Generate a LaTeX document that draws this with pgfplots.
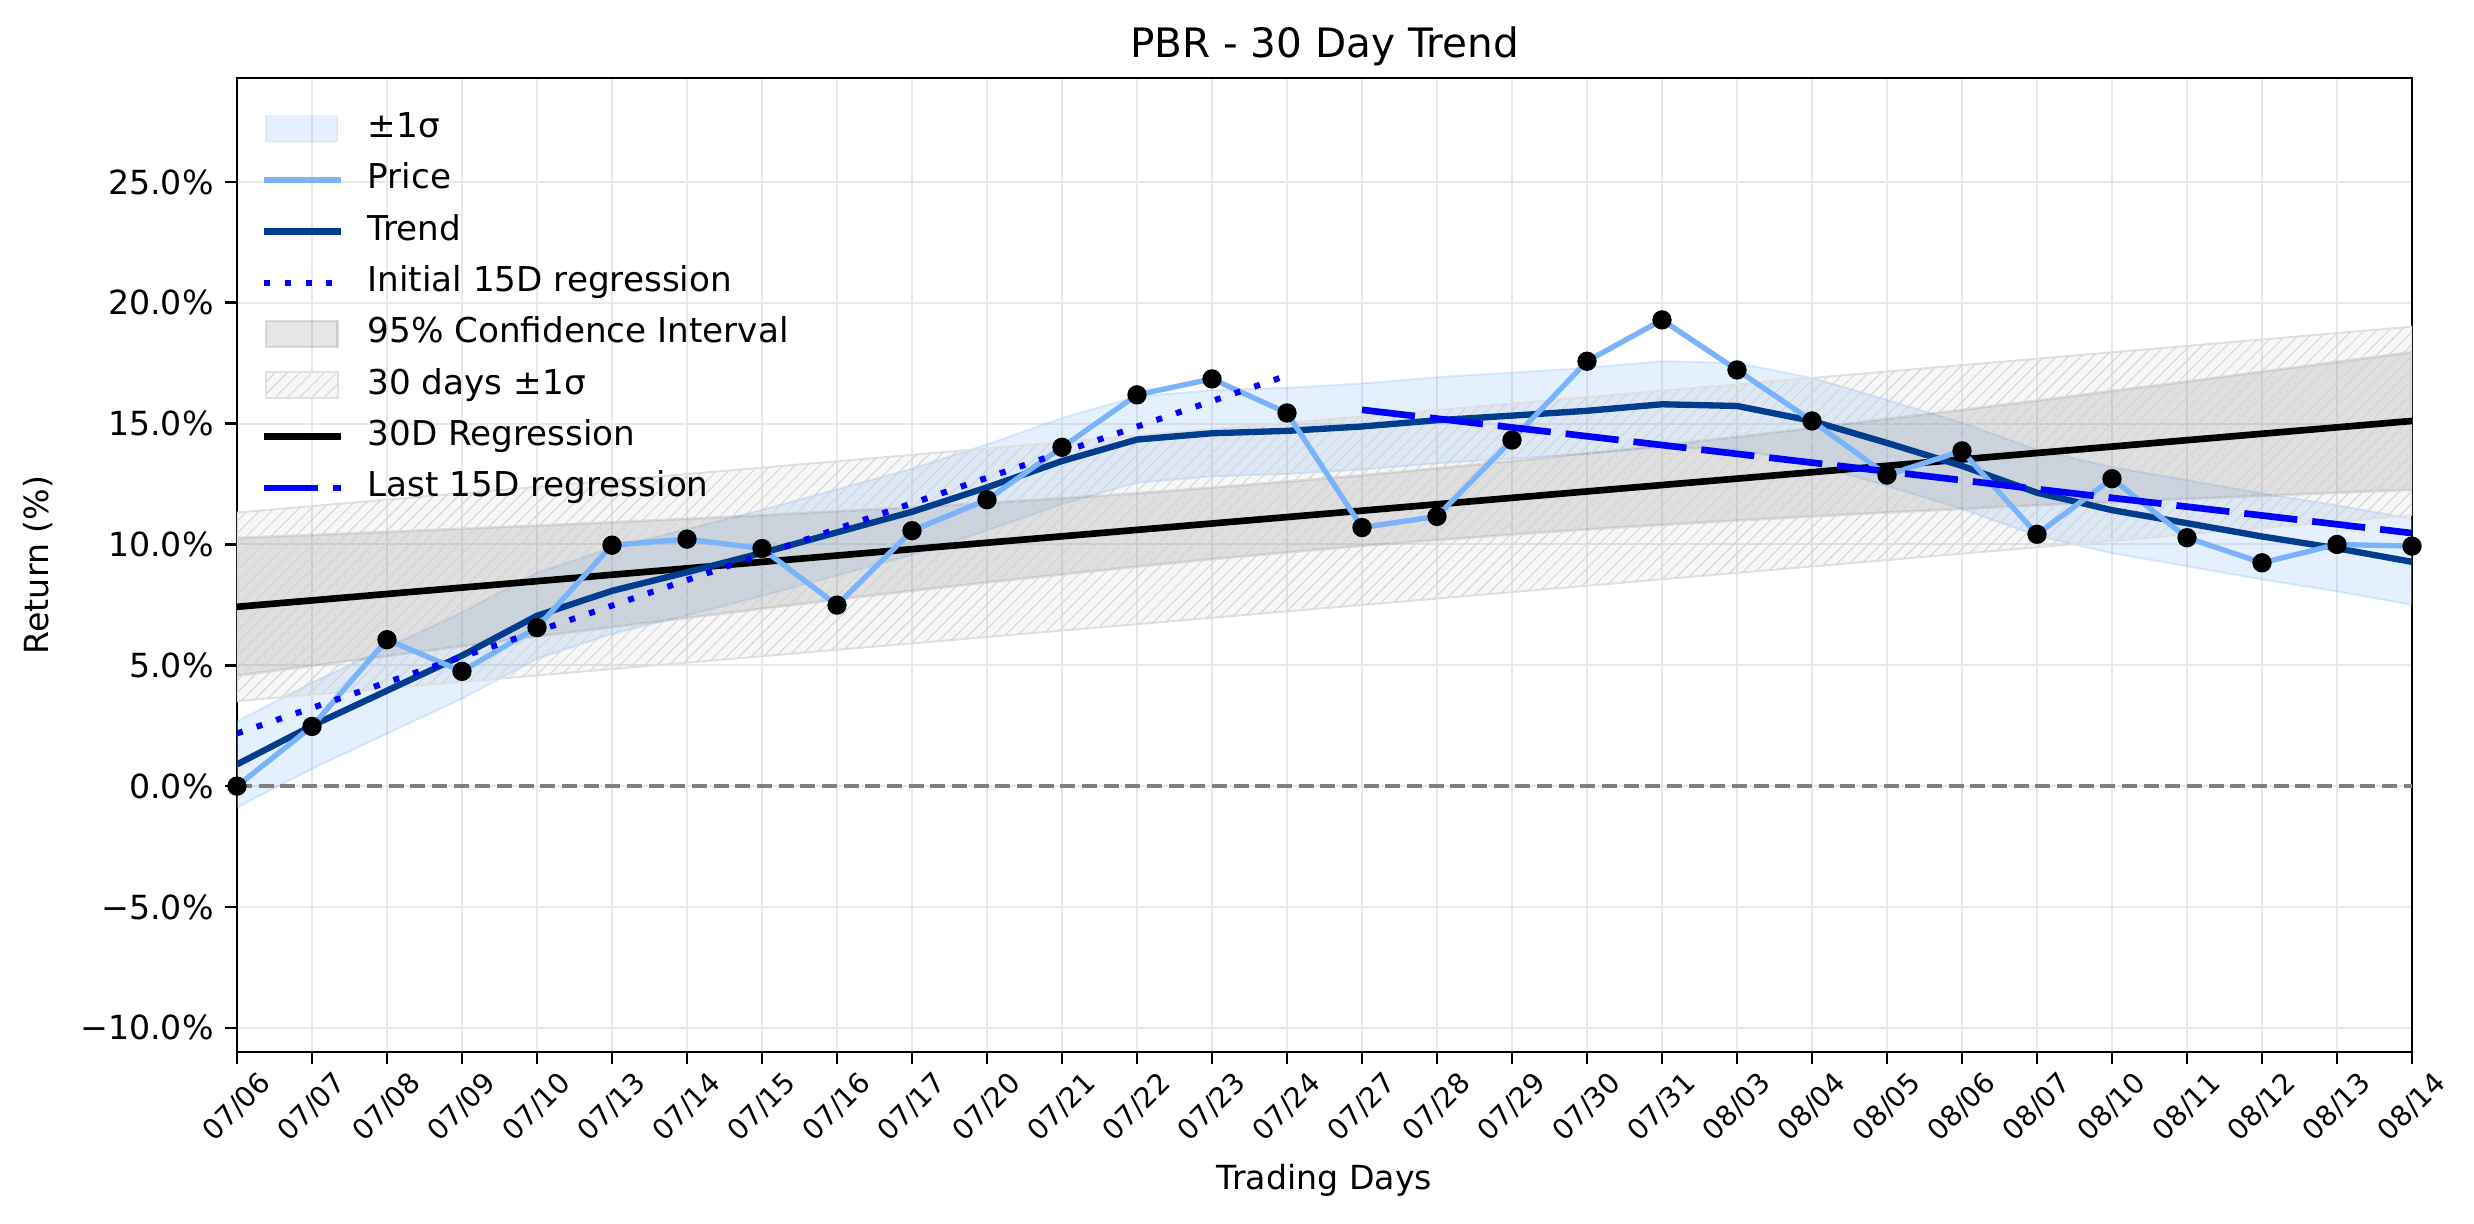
\documentclass[border=0pt]{standalone}
\usepackage{fontspec}
\setmainfont{DejaVu Sans}
\usepackage{pgfplots}
\usepackage{pgfplotstable}
\pgfplotsset{compat=1.18}
\usetikzlibrary{patterns.meta}

\definecolor{pricecol}{RGB}{122,179,250}
\definecolor{trendcol}{RGB}{0,61,143}
\definecolor{zerocol}{RGB}{128,128,128}

% daily return and smoothed trend
\pgfplotstableread{
x price trend
0 0.00 0.90
1 2.47 2.50
2 6.06 3.95
3 4.75 5.40
4 6.56 7.05
5 9.97 8.08
6 10.22 8.85
7 9.83 9.65
8 7.49 10.50
9 10.57 11.35
10 11.85 12.36
11 14.02 13.45
12 16.19 14.34
13 16.85 14.60
14 15.44 14.70
15 10.70 14.88
16 11.16 15.14
17 14.32 15.33
18 17.58 15.53
19 19.29 15.80
20 17.22 15.73
21 15.11 15.11
22 12.87 14.20
23 13.87 13.25
24 10.42 12.14
25 12.72 11.42
26 10.28 10.88
27 9.24 10.33
28 10.00 9.84
29 9.93 9.28
}\daily

\tikzset{hatchpat/.style={pattern={Lines[angle=45,distance=2.6bp,line width=0.3bp]}, pattern color=black!17}}

\pgfplotsset{
  legline/.style={legend image code/.code={\draw[##1] (0bp,0bp) -- (23bp,0bp); \path (0bp,-4bp) (29bp,4bp);}},
  legarea/.style={legend image code/.code={\draw[##1] (0.5bp,-3.9bp) rectangle (22bp,3.9bp); \path (0bp,-4bp) (29bp,4bp);}},
  leghatch/.style={legend image code/.code={%
    \fill[black!3] (0.5bp,-3.9bp) rectangle (22bp,3.9bp);
    \path[hatchpat] (0.5bp,-3.9bp) rectangle (22bp,3.9bp);
    \draw[black!12, line width=0.6bp] (0.5bp,-3.9bp) rectangle (22bp,3.9bp);
    \path (0bp,-4bp) (29bp,4bp);}},
}

\begin{document}
\begin{tikzpicture}
\path[use as bounding box] (-71.1bp,-51.6bp) rectangle (671.1bp,315.6bp);
\begin{axis}[
  at={(0,0)}, anchor=south west,
  scale only axis, width=652.5bp, height=292.2bp,
  xmin=0, xmax=29, ymin=-11, ymax=29.3,
  xtick={0,...,29},
  xticklabels={07/06,07/07,07/08,07/09,07/10,07/13,07/14,07/15,07/16,07/17,07/20,07/21,07/22,07/23,07/24,07/27,07/28,07/29,07/30,07/31,08/03,08/04,08/05,08/06,08/07,08/10,08/11,08/12,08/13,08/14},
  ytick={-10,-5,0,5,10,15,20,25},
  yticklabels={−10.0\%,−5.0\%,0.0\%,5.0\%,10.0\%,15.0\%,20.0\%,25.0\%},
  xtick pos=lower, ytick pos=left,
  tick align=outside,
  major tick length=3.5bp,
  tick style={black, line width=0.8bp},
  axis line style={line width=0.8bp},
  grid=major,
  major grid style={black!9, line width=0.6bp},
  tick label style={font=\fontsize{10}{12}\selectfont},
  xticklabel style={font=\fontsize{8.5}{10}\selectfont, rotate=45, anchor=center, inner sep=0pt},
  xticklabel shift=13bp,
  title={PBR - 30 Day Trend},
  title style={font=\fontsize{12.2}{14}\selectfont, at={(0.5,1)}, anchor=base, yshift=0.3bp},
  xlabel={Trading Days},
  xlabel style={font=\fontsize{10}{12}\selectfont, at={(axis description cs:0.5,0)}, anchor=center, yshift=-38.4bp},
  ylabel={Return (\%)},
  ylabel style={font=\fontsize{10}{12}\selectfont, at={(axis description cs:-0.0915,0.5)}, anchor=center},
  legend style={at={(0,1)}, anchor=north west, xshift=4bp, yshift=-7.2bp,
    draw=none, fill=none, font=\fontsize{10.3}{12}\selectfont,
    nodes={text height=7.5bp, text depth=2.2bp, inner sep=1bp},
    row sep=3.7bp},
  legend cell align=left,
]
% +-1 sigma band round the trend
\addplot[forget plot, fill=pricecol, fill opacity=0.2, draw=pricecol, draw opacity=0.25, line width=0.6bp]
  coordinates {(0,2.68) (1,4.28) (2,5.73) (3,7.18) (4,8.83) (5,9.86) (6,10.63) (7,11.43)
    (8,12.28) (9,13.13) (10,14.14) (11,15.23) (12,16.12) (13,16.38) (14,16.48) (15,16.66)
    (16,16.92) (17,17.11) (18,17.31) (19,17.58) (20,17.51) (21,16.89) (22,15.98) (23,15.03)
    (24,13.92) (25,13.20) (26,12.66) (27,12.11) (28,11.62) (29,11.06)
    (29,7.50) (28,8.06) (27,8.55) (26,9.10) (25,9.64) (24,10.36) (23,11.47) (22,12.42)
    (21,13.33) (20,13.95) (19,14.02) (18,13.75) (17,13.55) (16,13.36) (15,13.10) (14,12.92)
    (13,12.82) (12,12.56) (11,11.67) (10,10.58) (9,9.57) (8,8.72) (7,7.87) (6,7.07)
    (5,6.30) (4,5.27) (3,3.62) (2,2.17) (1,0.72) (0,-0.88) (0,2.68)};

% 95% confidence interval of the 30D regression
\addplot[forget plot, fill=zerocol, fill opacity=0.2, draw=zerocol, draw opacity=0.2, line width=0.8bp]
  coordinates {(0,10.27) (1,10.39) (2,10.52) (3,10.65) (4,10.78) (5,10.92) (6,11.06) (7,11.21)
    (8,11.37) (9,11.54) (10,11.72) (11,11.91) (12,12.12) (13,12.35) (14,12.60) (15,12.86)
    (16,13.15) (17,13.45) (18,13.77) (19,14.10) (20,14.45) (21,14.82) (22,15.19) (23,15.57)
    (24,15.95) (25,16.35) (26,16.74) (27,17.15) (28,17.55) (29,17.96)
    (29,12.26) (28,12.14) (27,12.01) (26,11.89) (25,11.75) (24,11.62) (23,11.47) (22,11.32)
    (21,11.16) (20,10.99) (19,10.81) (18,10.62) (17,10.41) (16,10.18) (15,9.94) (14,9.67)
    (13,9.39) (12,9.08) (11,8.76) (10,8.43) (9,8.08) (8,7.72) (7,7.34) (6,6.96)
    (5,6.58) (4,6.19) (3,5.79) (2,5.38) (1,4.98) (0,4.57) (0,10.27)};

% 30 days +-1 sigma, hatched
\addplot[forget plot, draw=black!12, line width=0.6bp, fill=black, fill opacity=0.03]
  coordinates {(0,11.32) (29,19.01) (29,11.21) (0,3.52) (0,11.32)};
\addplot[forget plot, draw=none, hatchpat]
  coordinates {(0,11.32) (29,19.01) (29,11.21) (0,3.52) (0,11.32)};

\addplot[forget plot, zerocol, line width=1.1bp, dash pattern=on 4.5bp off 2bp]
  coordinates {(0,0) (29,0)};

\addplot[forget plot, black, line width=2bp] coordinates {(0,7.42) (29,15.11)};
\addplot[forget plot, trendcol, line width=1.9bp] table[x=x, y=trend]{\daily};
\addplot[forget plot, pricecol, line width=1.6bp] table[x=x, y=price]{\daily};
\addplot[forget plot, blue, line width=1.8bp, dash pattern=on 1.8bp off 4.4bp] coordinates {(0,2.18) (14,16.99)};
\addplot[forget plot, blue, line width=2bp, dash pattern=on 16bp off 4.5bp] coordinates {(15,15.57) (29,10.47)};
\addplot[forget plot, only marks, mark=*, mark size=2.7bp, black] table[x=x, y=price]{\daily};

\addlegendimage{legarea, fill=pricecol, fill opacity=0.2, draw=pricecol, draw opacity=0.2}
\addlegendentry{±1σ}
\addlegendimage{legline, pricecol, line width=1.6bp}
\addlegendentry{Price}
\addlegendimage{legline, trendcol, line width=1.9bp}
\addlegendentry{Trend}
\addlegendimage{legline, blue, line width=1.8bp, dash pattern=on 1.8bp off 4.4bp}
\addlegendentry{Initial 15D regression}
\addlegendimage{legarea, fill=zerocol, fill opacity=0.2, draw=zerocol, draw opacity=0.25, line width=0.8bp}
\addlegendentry{95\% Confidence Interval}
\addlegendimage{leghatch}
\addlegendentry{30 days ±1σ}
\addlegendimage{legline, black, line width=2bp}
\addlegendentry{30D Regression}
\addlegendimage{legline, blue, line width=2bp, dash pattern=on 16bp off 4.5bp}
\addlegendentry{Last 15D regression}
\end{axis}
\end{tikzpicture}
\end{document}
